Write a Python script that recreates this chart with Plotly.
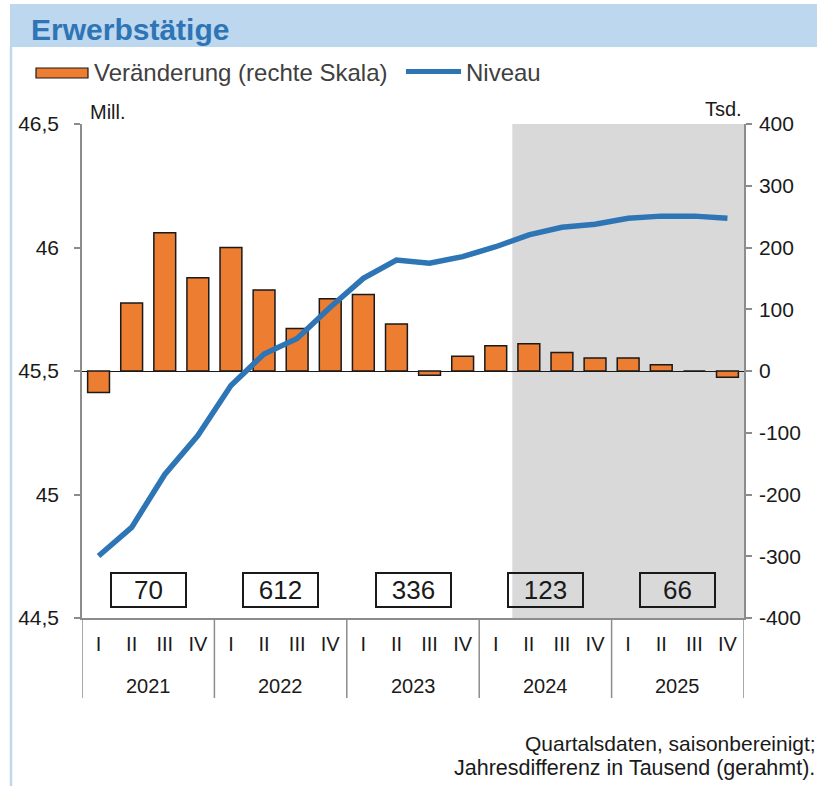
import plotly.graph_objects as go

# ---- data ----
quarter_labels = ["I", "II", "III", "IV"] * 5
years = ["2021", "2022", "2023", "2024", "2025"]
veraenderung = [-35, 110, 224, 151, 200, 131, 69, 117, 124, 76, -7, 24,
                41, 44, 30, 21, 21, 10, 0, -10]          # Tsd., right scale
niveau = [44.751, 44.867, 45.081, 45.239, 45.441, 45.569, 45.632, 45.758,
          45.875, 45.949, 45.936, 45.963, 46.003, 46.051, 46.082, 46.094,
          46.118, 46.127, 46.127, 46.118]                 # Mill., left scale
jahresdifferenz = [70, 612, 336, 123, 66]
left_ticks = [44.5, 45, 45.5, 46, 46.5]
left_ticktext = ["44,5", "45", "45,5", "46", "46,5"]
right_ticks = [-400, -300, -200, -100, 0, 100, 200, 300, 400]
right_ticktext = ["-400", "-300", "-200", "-100", "0", "100", "200", "300", "400"]

W, H = 817, 786
L, R, T, B = 82, 744, 124, 618
PW, PH = R - L, B - T


def px_x(px):
    return (px - L) / PW


def px_y(py):
    return (B - py) / PH


FONT = "Liberation Sans, Arial, sans-serif"
ORANGE = "#ED7D31"
BLUE = "#2E75B6"
AXIS = "#8C8C8C"

n = len(veraenderung)
xs = list(range(n))

fig = go.Figure()
fig.add_trace(go.Bar(
    x=xs, y=veraenderung, yaxis="y", width=0.66,
    marker=dict(color=ORANGE, line=dict(color="#1a1a1a", width=1.5)),
    name="Veränderung (rechte Skala)", showlegend=False,
))
fig.add_trace(go.Scatter(
    x=xs, y=niveau, yaxis="y2", mode="lines",
    line=dict(color=BLUE, width=5.5),
    name="Niveau", showlegend=False,
))

shapes = []
annotations = []

# title banner
shapes.append(dict(type="rect", xref="paper", yref="paper",
                   x0=px_x(10), x1=px_x(817), y0=px_y(47), y1=px_y(4),
                   fillcolor="#BDD7EE", line=dict(width=0), layer="below"))
# left border line
shapes.append(dict(type="line", xref="paper", yref="paper",
                   x0=px_x(11), x1=px_x(11), y0=px_y(47), y1=px_y(786),
                   line=dict(color="#BDD7EE", width=2.5)))
annotations.append(dict(text="<b>Erwerbstätige</b>", xref="paper", yref="paper",
                        x=px_x(29), y=px_y(29), xanchor="left", yanchor="middle",
                        showarrow=False, font=dict(family=FONT, size=30, color=BLUE)))

# legend (manual)
shapes.append(dict(type="rect", xref="paper", yref="paper",
                   x0=px_x(36), x1=px_x(88), y0=px_y(78), y1=px_y(68),
                   fillcolor=ORANGE, line=dict(color="#1a1a1a", width=1.2)))
annotations.append(dict(text="Veränderung (rechte Skala)", xref="paper", yref="paper",
                        x=px_x(92), y=px_y(73), xanchor="left", yanchor="middle",
                        showarrow=False, font=dict(family=FONT, size=24, color="#404040")))
shapes.append(dict(type="line", xref="paper", yref="paper",
                   x0=px_x(406), x1=px_x(461), y0=px_y(71.5), y1=px_y(71.5),
                   line=dict(color=BLUE, width=5)))
annotations.append(dict(text="Niveau", xref="paper", yref="paper",
                        x=px_x(464), y=px_y(73), xanchor="left", yanchor="middle",
                        showarrow=False, font=dict(family=FONT, size=24, color="#404040")))

# unit labels
annotations.append(dict(text="Mill.", xref="paper", yref="paper",
                        x=px_x(88), y=px_y(112), xanchor="left", yanchor="middle",
                        showarrow=False, font=dict(family=FONT, size=20, color="#1a1a1a")))
annotations.append(dict(text="Tsd.", xref="paper", yref="paper",
                        x=px_x(744), y=px_y(109), xanchor="right", yanchor="middle",
                        showarrow=False, font=dict(family=FONT, size=20, color="#1a1a1a")))

# forecast shading
shapes.append(dict(type="rect", xref="x", yref="paper", x0=12.5, x1=n - 0.5,
                   y0=0, y1=1, fillcolor="#D9D9D9", line=dict(width=0), layer="below"))

# year dividers and labels
for k in range(len(years) + 1):
    xv = k * 4 - 0.5
    shapes.append(dict(type="line", xref="x", yref="paper", x0=xv, x1=xv,
                       y0=0, y1=px_y(698), line=dict(color=AXIS, width=1.5)))
for k, yr in enumerate(years):
    annotations.append(dict(text=yr, xref="x", yref="paper", x=k * 4 + 1.5,
                            y=px_y(686), xanchor="center", yanchor="middle",
                            showarrow=False, font=dict(family=FONT, size=20, color="#1a1a1a")))
    annotations.append(dict(text=str(jahresdifferenz[k]), xref="x", yref="paper",
                            x=k * 4 + 1.5, y=px_y(590), xanchor="center", yanchor="middle",
                            showarrow=False, width=73, height=32, borderpad=0,
                            bordercolor="#1a1a1a", borderwidth=2,
                            font=dict(family=FONT, size=26, color="#1a1a1a")))

# footnote
annotations.append(dict(text="Quartalsdaten, saisonbereinigt;", xref="paper", yref="paper",
                        x=px_x(818), y=px_y(743), xanchor="right", yanchor="middle",
                        showarrow=False, font=dict(family=FONT, size=21, color="#1a1a1a")))
annotations.append(dict(text="Jahresdifferenz in Tausend (gerahmt).", xref="paper", yref="paper",
                        x=px_x(817), y=px_y(768), xanchor="right", yanchor="middle",
                        showarrow=False, font=dict(family=FONT, size=21.5, color="#1a1a1a")))

fig.update_layout(
    width=W, height=H, autosize=False,
    margin=dict(l=L, r=W - R, t=T, b=H - B, pad=0),
    paper_bgcolor="white", plot_bgcolor="white",
    separators=",.",
    showlegend=False,
    bargap=0.34,
    shapes=shapes, annotations=annotations,
    xaxis=dict(range=[-0.5, n - 0.5], tickmode="array", tickvals=xs,
               ticktext=quarter_labels, showgrid=False, zeroline=False,
               showline=True, linecolor=AXIS, linewidth=1.5,
               ticks="outside", ticklen=7, tickcolor="rgba(0,0,0,0)",
               tickfont=dict(family=FONT, size=20, color="#1a1a1a")),
    yaxis=dict(range=[-400, 400], side="right", tickmode="array",
               tickvals=right_ticks, ticktext=right_ticktext,
               showgrid=False, zeroline=True, zerolinecolor="#1a1a1a", zerolinewidth=1.2,
               showline=True, linecolor=AXIS, linewidth=1.5,
               ticks="outside", ticklen=6, tickcolor=AXIS, tickwidth=1.5,
               ticklabelstandoff=3,
               tickfont=dict(family=FONT, size=21, color="#1a1a1a")),
    yaxis2=dict(range=[44.5, 46.5], side="left", overlaying="y", tickmode="array",
                tickvals=left_ticks, ticktext=left_ticktext,
                showgrid=False, zeroline=False,
                showline=True, linecolor=AXIS, linewidth=1.5,
                ticks="outside", ticklen=6, tickcolor=AXIS, tickwidth=1.5,
                ticklabelstandoff=11,
                tickfont=dict(family=FONT, size=21, color="#1a1a1a")),
)

fig.write_html(
    "out.html",
    config={"displayModeBar": False},
    post_script="document.body.style.margin='0';document.body.style.overflow='hidden';",
)
